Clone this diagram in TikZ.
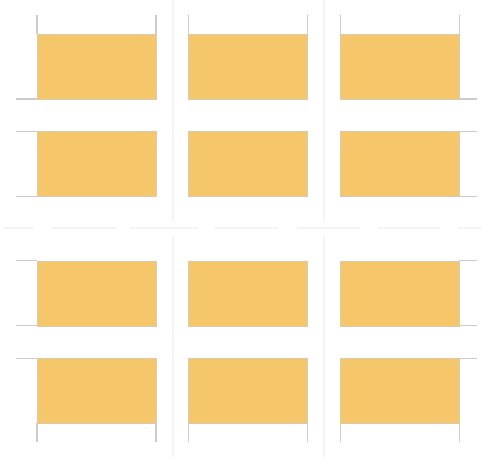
\documentclass[tikz,border=0pt]{standalone}
\usetikzlibrary{positioning}
\definecolor{blockcol}{HTML}{F5C66A}
\definecolor{edgecol}{HTML}{D9CBB0}
\definecolor{stubcol}{HTML}{CCCCCC}
\definecolor{guidecol}{HTML}{F4F4F4}

\begin{document}
\begin{tikzpicture}[x=0.02cm, y=-0.02cm,
  block/.style={draw=edgecol, fill=blockcol, line width=0.5pt,
    minimum width=2.38cm, minimum height=1.3cm, inner sep=0pt, outer sep=0pt},
  stub/.style={draw=stubcol, line width=0.6pt},
  guide/.style={draw=guidecol, line width=0.8pt},
]
\useasboundingbox (0,0) rectangle (481,457);

% faint guide lines behind everything
\foreach \gx in {173,324} {
  \draw[guide] (\gx,0) -- (\gx,222);
  \draw[guide] (\gx,236) -- (\gx,457);
}
\foreach \ga/\gb in {3/33,52/117,130/198,215/278,297/360,378/440,458/481}
  \draw[guide] (\ga,228) -- (\gb,228);

% top row of blocks
\node[block] (blk11) at (96.5,66.5) {};
\node[block, right=0.646cm of blk11] (blk12) {};
\node[block, right=0.66cm of blk12] (blk13) {};

% second row
\foreach \c in {1,2,3}
  \node[block, below=0.654cm of blk1\c] (blk2\c) {};

% third row, past the wide gap
\foreach \c in {1,2,3}
  \node[block, below=1.286cm of blk2\c] (blk3\c) {};

% bottom row
\foreach \c in {1,2,3}
  \node[block, below=0.646cm of blk3\c] (blk4\c) {};

% stubs on the top row
\foreach \c in {1,2,3} {
  \draw[stub] (blk1\c.north west) -- ++(0,-19);
  \draw[stub] (blk1\c.north east) -- ++(0,-19);
}
\draw[stub] (blk11.south west) -- ++(-21,0);
\draw[stub] (blk13.south east) -- ++(18,0);

% side stubs on the middle rows
\foreach \r in {2,3} {
  \draw[stub] (blk\r1.north west) -- ++(-21,0);
  \draw[stub] (blk\r1.south west) -- ++(-21,0);
  \draw[stub] (blk\r3.north east) -- ++(18,0);
  \draw[stub] (blk\r3.south east) -- ++(18,0);
}

% stubs on the bottom row
\draw[stub] (blk41.north west) -- ++(-21,0);
\draw[stub] (blk43.north east) -- ++(18,0);
\foreach \c in {1,2,3} {
  \draw[stub] (blk4\c.south west) -- ++(0,19);
  \draw[stub] (blk4\c.south east) -- ++(0,19);
}

\end{tikzpicture}
\end{document}
